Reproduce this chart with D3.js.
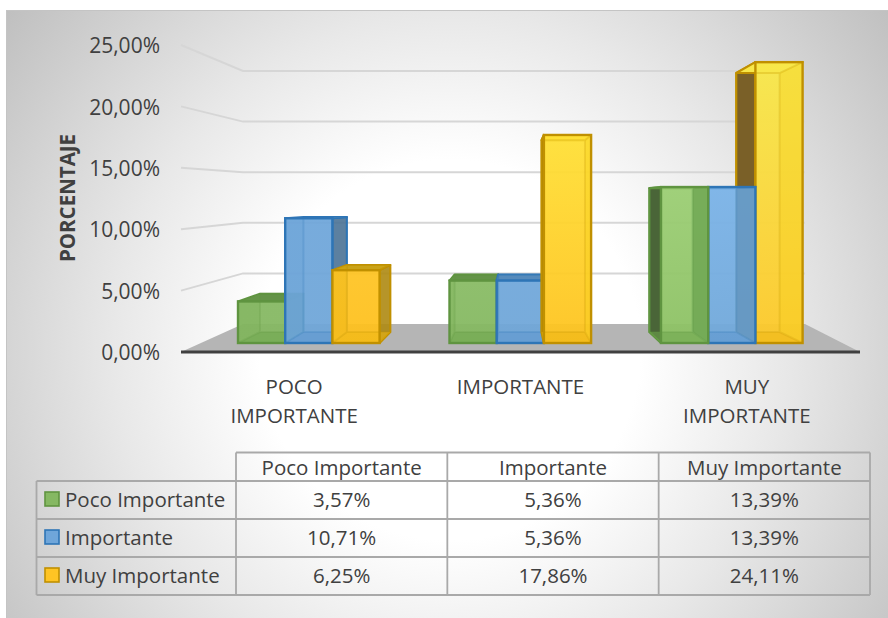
<!DOCTYPE html>
<html><head><meta charset="utf-8">
<script src="https://cdn.jsdelivr.net/npm/d3@7"></script>
<style>html,body{margin:0;padding:0;background:#fff}svg{display:block}text{font-family:"Open Sans",sans-serif;fill:#404040}</style>
</head><body><div id="c"></div>
<script>
const categories = ["POCO IMPORTANTE","IMPORTANTE","MUY IMPORTANTE"];
const categoryLines = [["POCO","IMPORTANTE"],["IMPORTANTE"],["MUY","IMPORTANTE"]];
const columnHeads = ["Poco Importante","Importante","Muy Importante"];
const seriesNames = ["Poco Importante","Importante","Muy Importante"];
const pocoValues = [3.57,5.36,13.39];
const importanteValues = [10.71,5.36,13.39];
const muyValues = [6.25,17.86,24.11];
const yTicks = [0,5,10,15,20,25];
const seriesValues = [pocoValues,importanteValues,muyValues];

const W=888,H=618;
const fmt = v => v.toFixed(2).replace(".",",")+"%";
const svg = d3.select("#c").append("svg").attr("width",W).attr("height",H);
const defs = svg.append("defs");

const bg = defs.append("radialGradient").attr("id","bg").attr("gradientUnits","userSpaceOnUse")
  .attr("cx",450).attr("cy",350).attr("r",560);
[[0,"#ffffff"],[0.34,"#ffffff"],[0.6,"#e8e8e8"],[0.72,"#dcdcdc"],[1,"#bfbfbf"]]
  .forEach(s=>bg.append("stop").attr("offset",s[0]).attr("stop-color",s[1]));
svg.append("rect").attr("x",6.5).attr("y",10.5).attr("width",W).attr("height",H)
  .attr("fill","url(#bg)").attr("stroke","#c4c4c4");

// scales
const yWallFront = d3.scaleLinear().domain([0,25]).range([352,45]);
const yWallBack  = d3.scaleLinear().domain([0,25]).range([324,71]);
const yFront = d3.scaleLinear().domain([0,25]).range([343,51.8]);
const yBack  = d3.scaleLinear().domain([0,25]).range([332,63.5]);
const groupX = d3.scaleBand().domain(categories).range([238,872.5]);
const seriesX = d3.scaleBand().domain(seriesNames).range([0,141.6]);
const xBack = d3.scaleLinear().domain([238,803]).range([260,780]);
const axisX = d3.scaleBand().domain(categories).range([181,860]);

// floor
const wallL=181, wallLB=243, wallRB=805, wallR=860;
svg.append("path").attr("fill","#b5b5b5")
  .attr("d",d3.line()([[wallL,yWallFront(0)],[wallLB,yWallBack(0)],[wallRB,yWallBack(0)],[wallR,yWallFront(0)]])+"Z");

// gridlines
yTicks.slice(1).forEach(t=>{
  svg.append("path").attr("fill","none").attr("stroke","#d6d6d6").attr("stroke-width",2)
    .attr("d",d3.line()([[wallL,yWallFront(t)],[wallLB,yWallBack(t)],[wallRB,yWallBack(t)]]));
});

// bar colours
const pal = [
 {base:"#6fa84c",line:"#5f9440",top:"#5f8f42",rout:"#5f8f42",lside:"#4a6538",rside:"#6fa652",rop:0.8,floor:"#6fa54e",
  grad:[["#85b862","#85b862"],["#88bb64","#84b860"],["#9bce73","#8cc163"]]},
 {base:"#5b9bd5",line:"#2e75b6",top:"#4f86b8",rout:"#4a7296",lside:"#3f6f9f",rside:"#6496bf",rop:0.8,floor:"#5e98cf",
  grad:[["#6fa6da","#6fa6d8"],["#70a7da","#6fa6d8"],["#7ab3e8","#70a8da"]]},
 {base:"#ffc000",line:"#c09000",top:"#c9a010",rout:"#ae8a12",lside:"#7a6028",rside:"#f6d21a",rop:0.35,floor:"#efb815",
  grad:[["#fec424","#fec01c"],["#ffe035","#fec31e"],["#f8e84a","#fdc828"]]}
];
pal.forEach((p,s)=>p.grad.forEach((g,c)=>{
  const lg = defs.append("linearGradient").attr("id",`g${s}${c}`).attr("gradientUnits","userSpaceOnUse")
    .attr("x1",0).attr("x2",0).attr("y1",yFront(seriesValues[s][c])).attr("y2",yFront(0));
  lg.append("stop").attr("offset",0).attr("stop-color",g[0]);
  lg.append("stop").attr("offset",1).attr("stop-color",g[1]);
}));

function drawBar(c,s){
  const v = seriesValues[s][c], p = pal[s];
  const x0 = groupX(categories[c])+seriesX(seriesNames[s]), x1 = x0+seriesX.bandwidth();
  const bx0=xBack(x0), bx1=xBack(x1);
  const fb=yFront(0), ft=yFront(v), bb=yBack(0), bt=yBack(v);
  const g = svg.append("g").attr("class","bar");
  const face=(pts,fill,op,sw,strokeOp)=>g.append("path").attr("d",d3.line()(pts)+"Z")
    .attr("fill",fill).attr("fill-opacity",op).attr("stroke",sw?p.line:"none").attr("stroke-width",sw)
    .attr("stroke-opacity",strokeOp).attr("stroke-linejoin","round");
  const leftOut = bx0<x0, rightOut = bx1>x1;
  const lPts=[[x0,fb],[bx0,bb],[bx0,bt],[x0,ft]], rPts=[[x1,fb],[bx1,bb],[bx1,bt],[x1,ft]];
  const tPts=[[x0,ft],[x1,ft],[bx1,bt],[bx0,bt]], fPts=[[x0,fb],[x1,fb],[bx1,bb],[bx0,bb]];
  // outward faces drawn behind the front
  if(leftOut) face(lPts,p.lside,1,2.2,1);
  if(rightOut) face(rPts,p.rout,0.9,2,1);
  face(tPts, ft<bt?`url(#g${s}${c})`:p.top, ft<bt?1:0.92, 2, 1);
  // front
  g.append("rect").attr("x",x0).attr("y",ft).attr("width",x1-x0).attr("height",fb-ft)
    .attr("fill",`url(#g${s}${c})`).attr("fill-opacity",0.94);
  // inner faces seen through the translucent front
  if(ft>=bt) face(tPts,p.top,0.55,0,0);
  face(fPts,p.floor,0.55,0,0);
  if(!leftOut) face(lPts,p.base,0.16,0,0);
  if(!rightOut) face(rPts,p.rside,p.rop,0,0);
  g.append("path").attr("fill","none").attr("stroke",p.line).attr("stroke-opacity",0.22).attr("stroke-width",2)
    .attr("d",d3.line()([[bx0,bt],[bx0,bb],[bx1,bb],[bx1,bt],[bx0,bt]])+"M"+x0+","+fb+"L"+bx0+","+bb+"M"+x1+","+fb+"L"+bx1+","+bb+"M"+x1+","+ft+"L"+bx1+","+bt);
  g.append("rect").attr("x",x0).attr("y",ft).attr("width",x1-x0).attr("height",fb-ft)
    .attr("fill","none").attr("stroke",p.line).attr("stroke-width",2.4);
}
[[0,1,2],[0,1,2],[2,1,0]].forEach((order,c)=>order.forEach(s=>drawBar(c,s)));

// axis line
svg.append("line").attr("x1",wallL).attr("x2",wallR).attr("y1",yWallFront(0)).attr("y2",yWallFront(0))
  .attr("stroke","#404040").attr("stroke-width",3);

// y axis
const yAxis = svg.append("g").attr("transform","translate(160,1)")
  .call(d3.axisLeft(yWallFront).tickValues(yTicks).tickFormat(fmt).tickSize(0).tickPadding(0));
yAxis.select(".domain").remove();
yAxis.selectAll("text").attr("font-size",21).style("font-family",'"Open Sans",sans-serif').attr("fill","#404040");

svg.append("text").attr("transform","translate(67,198) rotate(-90)").attr("text-anchor","middle")
  .attr("dominant-baseline","central").attr("font-size",20.5).attr("font-weight",700).text("PORCENTAJE");

// category labels
categoryLines.forEach((lines,i)=>lines.forEach((l,j)=>{
  svg.append("text").attr("x",axisX(categories[i])+axisX.bandwidth()/2).attr("y",386+j*29)
    .attr("text-anchor","middle").attr("dominant-baseline","central").attr("font-size",20.5).text(l);
}));

// data table
const colEdges = d3.scalePoint().domain(d3.range(4)).range([236,870]);
const rowEdges = d3.scaleLinear().domain([0,1]).range([481,519]);
const left = 36.5, topY = 452.5;
const gridC = "#a9a9a9";
const ln=(x1,y1,x2,y2)=>svg.append("line").attr("x1",x1).attr("y1",y1).attr("x2",x2).attr("y2",y2)
  .attr("stroke",gridC).attr("stroke-width",1.8);
ln(colEdges(0),topY,colEdges(3),topY);
d3.range(4).forEach(r=>ln(left,rowEdges(r),colEdges(3),rowEdges(r)));
d3.range(4).forEach(i=>ln(colEdges(i),topY,colEdges(i),rowEdges(3)));
ln(left,rowEdges(0),left,rowEdges(3));
const colMid = i => (colEdges(i)+colEdges(i+1))/2;
const tableSize = 20.5;
columnHeads.forEach((h,i)=>svg.append("text").attr("x",colMid(i)).attr("y",(topY+rowEdges(0))/2)
  .attr("text-anchor","middle").attr("dominant-baseline","central").attr("font-size",tableSize).text(h));
seriesNames.forEach((n,r)=>{
  const cy=(rowEdges(r)+rowEdges(r+1))/2-1;
  svg.append("rect").attr("x",45).attr("y",cy-7).attr("width",14).attr("height",14)
    .attr("fill",pal[r].grad[0][0]).attr("stroke",pal[r].line).attr("stroke-width",1.6);
  svg.append("text").attr("x",65).attr("y",cy).attr("dominant-baseline","central").attr("font-size",tableSize).text(n);
  seriesValues[r].forEach((v,i)=>svg.append("text").attr("x",colMid(i)).attr("y",cy)
    .attr("text-anchor","middle").attr("dominant-baseline","central").attr("font-size",tableSize).text(fmt(v)));
});
</script></body></html>
